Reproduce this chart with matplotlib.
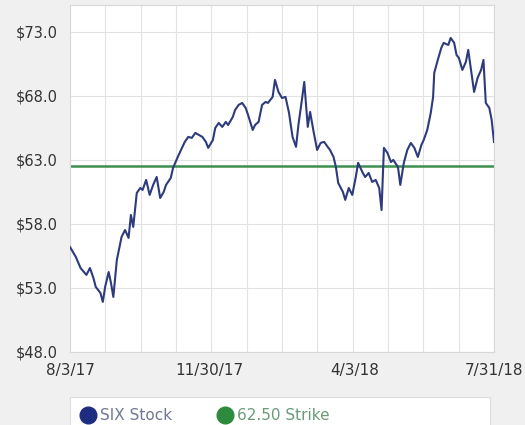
import pandas as pd
import matplotlib
matplotlib.use("Agg")
import matplotlib.pyplot as plt
from matplotlib.lines import Line2D
from matplotlib.patches import Rectangle

# Preço de fechamento (dias corridos a partir de 3/8/2017)
inicio = pd.Timestamp("2017-08-03")
dias = [0, 5, 9, 14, 17, 20, 22, 26, 28, 30, 33, 35, 37, 40, 44, 47, 50, 52, 54, 57,
        60, 62, 65, 68, 71, 74, 77, 80, 82, 86, 88, 92, 96, 98, 101, 104, 107, 110, 113, 116,
        118, 122, 124, 127, 130, 133, 135, 139, 141, 144, 147, 150, 152, 156, 158, 161, 164, 167, 169, 173,
        175, 178, 181, 184, 187, 190, 193, 195, 198, 200, 203, 205, 208, 211, 214, 217, 220, 222, 225, 227,
        229, 233, 235, 238, 241, 244, 246, 250, 252, 255, 258, 261, 264, 266, 268, 271, 274, 276, 280, 282,
        285, 288, 291, 294, 297, 300, 302, 305, 308, 310, 311, 314, 317, 319, 323, 325, 328, 330, 332, 335,
        338, 340, 342, 345, 348, 351, 353, 355, 358, 360, 362]
precos = [56.20, 55.42, 54.56, 54.02, 54.56, 53.78, 53.08, 52.61, 51.91, 53.08, 54.25, 53.39, 52.30, 55.19, 56.98, 57.53, 56.91, 58.70, 57.77, 60.42,
          60.81, 60.66, 61.44, 60.27, 61.05, 61.67, 60.03, 60.50, 61.05, 61.59, 62.38, 63.23, 64.02, 64.41, 64.80, 64.72, 65.11, 64.95, 64.80, 64.41,
          63.94, 64.56, 65.50, 65.89, 65.58, 65.97, 65.73, 66.36, 66.91, 67.30, 67.45, 67.06, 66.52, 65.34, 65.73, 65.97, 67.30, 67.53, 67.45, 67.92,
          69.25, 68.31, 67.84, 67.92, 66.67, 64.80, 64.02, 65.73, 67.69, 69.09, 65.58, 66.75, 65.19, 63.78, 64.33, 64.41, 64.02, 63.78, 63.23, 62.45,
          61.20, 60.50, 59.88, 60.81, 60.27, 61.67, 62.77, 61.98, 61.67, 61.98, 61.28, 61.44, 60.81, 59.09, 63.94, 63.55, 62.84, 63.00, 62.45, 61.05,
          62.77, 63.78, 64.33, 63.94, 63.23, 64.17, 64.56, 65.34, 66.67, 67.92, 69.80, 70.81, 71.75, 72.14, 71.98, 72.53, 72.14, 71.20, 70.97, 70.03,
          70.66, 71.59, 70.27, 68.31, 69.41, 70.03, 70.81, 67.45, 67.06, 66.13, 64.40]
strike = 62.50

ticks_x = ["2017-08-03", "2017-11-30", "2018-04-03", "2018-07-31"]
rotulos_x = ["8/3/17", "11/30/17", "4/3/18", "7/31/18"]
ticks_y = [48, 53, 58, 63, 68, 73]

cor_acao = "#2d3b7d"
cor_strike = "#3f8f4f"

fig = plt.figure(figsize=(5.25, 4.25), dpi=100, facecolor="#f0f0f0")
ax = fig.add_axes([70 / 525, 1 - 352 / 425, 424 / 525, 347 / 425])
ax.set_facecolor("white")

datas = inicio + pd.to_timedelta(dias, unit="D")
ax.plot(datas, precos, color=cor_acao, lw=1.5, zorder=3)
ax.axhline(strike, color=cor_strike, lw=1.8, zorder=2)

ax.set_xlim(pd.Timestamp("2017-08-03"), pd.Timestamp("2018-07-31"))
ax.set_ylim(48, 75.1)

# grade: linhas verticais mensais e horizontais a cada $5
for g in pd.date_range("2017-08-03", "2018-07-31", periods=13):
    ax.axvline(g, color="#e2e2e2", lw=0.8, zorder=0)
for v in ticks_y:
    ax.axhline(v, color="#e2e2e2", lw=0.8, zorder=0)

ax.set_yticks(ticks_y)
ax.set_yticklabels(["$%.1f" % v for v in ticks_y])
ax.set_xticks(pd.to_datetime(ticks_x))
ax.set_xticklabels(rotulos_x)
ax.tick_params(axis="both", length=0, labelcolor="#333333")
ax.tick_params(axis="y", pad=9, labelsize=10.5)
ax.tick_params(axis="x", pad=8, labelsize=11)
for s in ax.spines.values():
    s.set_color("#d8d8d8")
    s.set_linewidth(0.8)

# legenda
fig.add_artist(Rectangle((70 / 525, -0.01), 420 / 525, (425 - 397) / 425 + 0.01,
                         transform=fig.transFigure, facecolor="white", edgecolor="#dddddd", lw=0.8))
fig.add_artist(Line2D([88 / 525], [10 / 425], marker="o", ms=12, color="#1f2d80",
                      transform=fig.transFigure))
fig.text(100 / 525, 10 / 425, "SIX Stock", va="center", fontsize=11, color="#707790")
fig.add_artist(Line2D([225 / 525], [10 / 425], marker="o", ms=12, color="#2e8b3e",
                      transform=fig.transFigure))
fig.text(237 / 525, 10 / 425, "62.50 Strike", va="center", fontsize=11, color="#6a9a78")

fig.savefig("out.png", dpi=100, facecolor=fig.get_facecolor())
